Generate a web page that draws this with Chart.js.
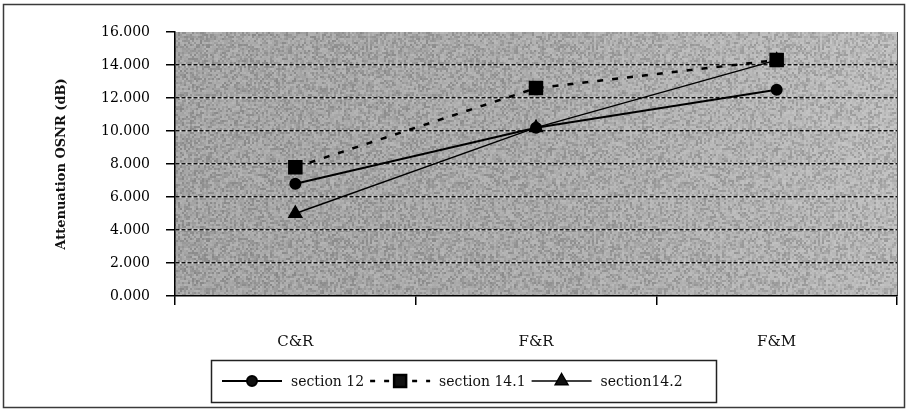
<!DOCTYPE html>
<html>
<head>
<meta charset="utf-8">
<style>
  html, body { margin: 0; padding: 0; background: #fff; }
  #c { display: block; }
</style>
<script src="https://cdn.jsdelivr.net/npm/chart.js@4.4.1/dist/chart.umd.min.js"></script>
</head>
<body>
<canvas id="c" width="908" height="411"></canvas>
<script>
// Attenuation of OSNR (dB) per configuration
const categories = ['C&R', 'F&R', 'F&M'];
const seriesNames = ['section 12', 'section 14.1', 'section14.2'];
const section12 = [6.8, 10.2, 12.5];
const section141 = [7.8, 12.6, 14.3];
const section142 = [5.0, 10.2, 14.3];
const yMin = 0, yMax = 16, yStep = 2;

const SERIF = '"DejaVu Serif", "Liberation Serif", serif';

// grainy texture for the plot background (2x2 pixel cells)
function makeGrain() {
  const w = 226, h = 194;
  const cv = document.createElement('canvas');
  cv.width = w; cv.height = h;
  const g = cv.getContext('2d');
  const img = g.createImageData(w, h);
  for (let y = 0; y < h; y++) {
    for (let x = 0; x < w; x++) {
      const cx = x >> 1, cy = y >> 1;
      let k = Math.imul(cx, 374761393) + Math.imul(cy, 668265263);
      k = Math.imul(k ^ (k >>> 13), 1274126177);
      k = (k ^ (k >>> 16)) >>> 0;
      const v = (k & 255) / 255;
      const i = (y * w + x) * 4;
      const c = v > 0.5 ? 255 : 0;
      img.data[i] = c; img.data[i + 1] = c; img.data[i + 2] = c;
      img.data[i + 3] = Math.round(Math.abs(v - 0.5) * 2 * 45);
    }
  }
  g.putImageData(img, 0, 0);
  return cv;
}
const grainCanvas = makeGrain();

const backdrop = {
  id: 'backdrop',
  beforeDraw(chart) {
    const { ctx, chartArea: a, width, height } = chart;
    ctx.save();
    ctx.fillStyle = '#fff';
    ctx.fillRect(0, 0, width, height);
    ctx.strokeStyle = '#3a3a3a';
    ctx.lineWidth = 1.5;
    ctx.strokeRect(3.5, 4.5, width - 7, height - 8);

    const grad = ctx.createLinearGradient(a.left, a.bottom, a.right, a.top);
    grad.addColorStop(0, '#a3a3a3');
    grad.addColorStop(0.5, '#aaaaaa');
    grad.addColorStop(1, '#bebebe');
    ctx.fillStyle = grad;
    ctx.fillRect(a.left, a.top, a.right - a.left, a.bottom - a.top);
    ctx.fillStyle = ctx.createPattern(grainCanvas, 'repeat');
    ctx.fillRect(a.left, a.top, a.right - a.left, a.bottom - a.top);

    // light underlay so the dotted grid shows pale gaps
    const ys = chart.scales.y;
    ctx.strokeStyle = 'rgba(255,255,255,0.75)';
    ctx.lineWidth = 1.5;
    ys.ticks.forEach(t => {
      if (t.value === yMin || t.value === yMax) return;
      const py = ys.getPixelForValue(t.value);
      ctx.beginPath();
      ctx.moveTo(a.left, py);
      ctx.lineTo(a.right, py);
      ctx.stroke();
    });

    ctx.strokeStyle = '#555';
    ctx.lineWidth = 1;
    ctx.beginPath();
    ctx.moveTo(a.right + 0.5, a.top);
    ctx.lineTo(a.right + 0.5, a.bottom);
    ctx.stroke();
    ctx.restore();
  }
};

// boxed legend below the axis, one line-and-marker sample per series
const boxLegend = {
  id: 'boxLegend',
  afterDraw(chart, args, opts) {
    const { ctx } = chart;
    const bx = opts.x, by = opts.y, bw = opts.w, bh = opts.h;
    ctx.save();
    ctx.strokeStyle = '#222';
    ctx.lineWidth = 1.5;
    ctx.strokeRect(bx + 0.5, by + 0.5, bw, bh);
    ctx.font = '14px ' + SERIF;
    ctx.textBaseline = 'middle';
    ctx.fillStyle = '#111';
    const cy = by + bh / 2;
    let x = bx + 11;
    chart.data.datasets.forEach(ds => {
      const sw = 60;
      ctx.save();
      ctx.strokeStyle = ds.borderColor;
      ctx.lineWidth = ds.borderWidth;
      ctx.setLineDash(ds.legendDash || ds.borderDash || []);
      ctx.beginPath();
      ctx.moveTo(x, cy);
      ctx.lineTo(x + sw, cy);
      ctx.stroke();
      ctx.setLineDash([]);
      Chart.helpers.drawPoint(ctx, {
        pointStyle: ds.pointStyle, radius: ds.pointRadius, borderWidth: 1
      }, x + sw / 2, cy);
      ctx.restore();
      ctx.fillStyle = '#111';
      ctx.fillText(ds.label, x + sw + 9, cy + 1);
      x += sw + 9 + ctx.measureText(ds.label).width + 6;
    });
    ctx.restore();
  }
};

const common = {
  borderColor: '#000',
  pointBackgroundColor: '#000',
  pointBorderColor: '#000',
  backgroundColor: '#000',
  fill: false,
  tension: 0
};

new Chart(document.getElementById('c'), {
  type: 'line',
  data: {
    labels: categories,
    datasets: [
      Object.assign({}, common, {
        label: seriesNames[0], data: section12,
        borderWidth: 2, pointStyle: 'circle', pointRadius: 5
      }),
      Object.assign({}, common, {
        label: seriesNames[1], data: section141,
        borderWidth: 2.5, borderDash: [6, 9], legendDash: [5, 9],
        pointStyle: 'rect', pointRadius: 8.5
      }),
      Object.assign({}, common, {
        label: seriesNames[2], data: section142,
        borderWidth: 1.4, pointStyle: 'triangle', pointRadius: 7.5
      })
    ]
  },
  options: {
    responsive: false,
    animation: false,
    devicePixelRatio: 1,
    layout: { padding: { left: 0, top: 32, right: 9, bottom: 0 } },
    plugins: {
      legend: { display: false },
      tooltip: { enabled: false },
      boxLegend: { x: 211, y: 360, w: 505, h: 42 }
    },
    scales: {
      x: {
        type: 'category',
        offset: true,
        afterFit: s => { s.height = 115; },
        grid: {
          offset: true,
          drawOnChartArea: false,
          drawTicks: true,
          tickLength: 9,
          color: '#000',
          lineWidth: 1.5
        },
        border: { display: true, color: '#000', width: 1.5 },
        ticks: {
          padding: 28,
          color: '#111',
          font: { family: SERIF, size: 15 }
        }
      },
      y: {
        min: yMin,
        max: yMax,
        afterFit: s => { s.width = 175; },
        grid: {
          drawTicks: true,
          tickLength: 9,
          lineWidth: 1.5,
          color: c => (c.tick && (c.tick.value === yMin || c.tick.value === yMax)) ? 'rgba(0,0,0,0)' : '#111',
          tickColor: '#000',
          tickWidth: 1.5
        },
        border: { display: true, color: '#000', width: 1.5, dash: [4, 2] },
        ticks: {
          stepSize: yStep,
          padding: 16,
          color: '#000',
          font: { family: SERIF, size: 14 },
          callback: v => Number(v).toFixed(3)
        },
        title: {
          display: true,
          text: 'Attenuation OSNR (dB)',
          color: '#111',
          font: { family: SERIF, size: 13, weight: 'bold' },
          padding: { top: 54, bottom: 0 }
        }
      }
    }
  },
  plugins: [backdrop, boxLegend]
});
</script>
</body>
</html>
